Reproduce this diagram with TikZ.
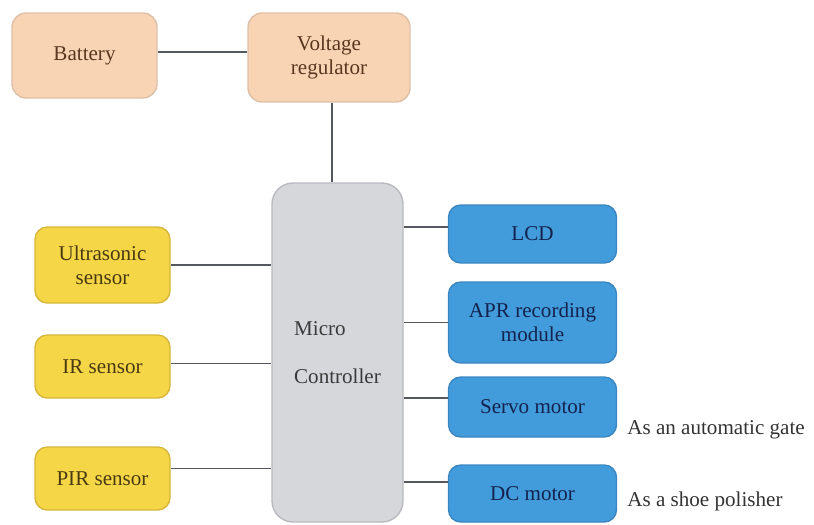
\documentclass[tikz,border=0pt]{standalone}
\usepackage{fontspec}
\setmainfont{Liberation Serif}
\usetikzlibrary{calc}

\definecolor{peach}{HTML}{F8D3B4}
\definecolor{peachline}{HTML}{DDC0A8}
\definecolor{peachtext}{HTML}{5A3820}
\definecolor{sun}{HTML}{F5D647}
\definecolor{sunline}{HTML}{D6B73C}
\definecolor{suntext}{HTML}{4A3A12}
\definecolor{sky}{HTML}{429BDB}
\definecolor{skyline}{HTML}{3A86C0}
\definecolor{skytext}{HTML}{14234E}
\definecolor{ash}{HTML}{D6D7DB}
\definecolor{ashline}{HTML}{B8BAC0}
\definecolor{ashtext}{HTML}{3A3A3A}
\definecolor{wire}{HTML}{55585E}

\begin{document}
\begin{tikzpicture}
                [x=0.02cm, y=-0.02cm,
                every node/.style={font=\fontsize{12}{13.5}\selectfont},
                psty/.style={rectangle, rounded corners=8pt, draw=peachline, fill=peach, text=peachtext, thick, align=center},
                ysty/.style={rectangle, rounded corners=7pt, draw=sunline, fill=sun, text=suntext, thick, align=center, minimum width=135*0.02cm},
                gsty/.style={rectangle, rounded corners=12pt, draw=ashline, fill=ash, text=ashtext, thick, align=left},
                bsty/.style={rectangle, rounded corners=7pt, draw=skyline, fill=sky, text=skytext, thick, align=center, minimum width=168*0.02cm},
                lsty/.style={draw=wire, line width=0.9pt}]
                \useasboundingbox (0,0) rectangle (814,524);
                % nodes
                \node[psty, minimum width=145*0.02cm, minimum height=85*0.02cm] (bat) at (84.5,55.5) {Battery};
                \node[psty, minimum width=162*0.02cm, minimum height=89*0.02cm] (vreg) at (329,57.5) {Voltage\\regulator};
                \node[gsty, minimum width=131*0.02cm, minimum height=339*0.02cm] (mc) at (337.5,352.5) {Micro\\[14pt]Controller};
                \node[ysty, minimum height=76*0.02cm] (ultra) at (102.5,265) {Ultrasonic\\sensor};
                \node[ysty, minimum height=63*0.02cm] (ir) at (102.5,366.5) {IR sensor};
                \node[ysty, minimum height=63*0.02cm] (pir) at (102.5,478.5) {PIR sensor};
                \node[bsty, minimum height=58*0.02cm] (lcd) at (532.5,234) {LCD};
                \node[bsty, minimum height=81*0.02cm] (apr) at (532.5,322.5) {APR recording\\module};
                \node[bsty, minimum height=60*0.02cm] (servo) at (532.5,407) {Servo motor};
                \node[bsty, minimum height=57*0.02cm] (dc) at (532.5,493.5) {DC motor};
                \node[anchor=west, text=black!80, inner sep=0pt] (gate) at (627,430) {As an automatic gate};
                \node[anchor=west, text=black!80, inner sep=0pt] (polish) at (627,501) {As a shoe polisher};
                % links
                \draw[lsty] (bat.east |- 0,52) -- (vreg.west |- 0,52);
                \draw[lsty] ($(vreg.south)+(3,0)$) -- ($(vreg.south |- mc.north)+(3,0)$);
                \draw[lsty] (ultra.east) -- (ultra.east -| mc.west);
                \draw[lsty] ($(ir.east)+(0,-3)$) -- ($(ir.east -| mc.west)+(0,-3)$);
                \draw[lsty] ($(pir.east)+(0,-10)$) -- ($(pir.east -| mc.west)+(0,-10)$);
                \draw[lsty] (mc.east |- 0,227) -- (lcd.west |- 0,227);
                \draw[lsty] (mc.east |- apr.west) -- (apr.west);
                \draw[lsty] (mc.east |- 0,398) -- (servo.west |- 0,398);
                \draw[lsty] (mc.east |- 0,482) -- (dc.west |- 0,482);
\end{tikzpicture}
\end{document}
